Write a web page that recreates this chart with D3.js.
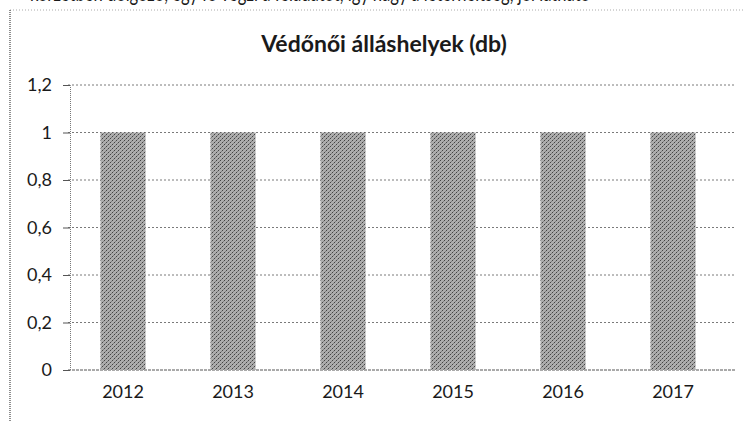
<!DOCTYPE html>
<html>
<head>
<meta charset="utf-8">
<script src="https://cdn.jsdelivr.net/npm/d3@7"></script>
<style>
  html, body { margin: 0; padding: 0; background: #fff; }
  svg { display: block; }
  text { font-family: Lato, "Open Sans", sans-serif; fill: #1a1a1a; }
</style>
</head>
<body>
<svg id="chart" width="744" height="421"></svg>
<script>
// Chart data
const years = ["2012", "2013", "2014", "2015", "2016", "2017"];
const positions = [1, 1, 1, 1, 1, 1];
const yTicks = [0, 0.2, 0.4, 0.6, 0.8, 1, 1.2];
const title = "Védőnői álláshelyek (db)";
const headerLine = "körzetben dolgozó, egy fő végzi a feladatot, így nagy a leterheltség, jól látható";

const svg = d3.select("#chart");
const W = 744, H = 421;
const margin = { top: 85, right: 16, bottom: 51, left: 68 };

// Stippled grey fill for the bars
const defs = svg.append("defs");
const pat = defs.append("pattern")
  .attr("id", "stipple").attr("width", 4).attr("height", 4)
  .attr("patternUnits", "userSpaceOnUse");
pat.append("rect").attr("width", 4).attr("height", 4).attr("fill", "#adadad");
pat.append("rect").attr("x", 0).attr("y", 0).attr("width", 1).attr("height", 1).attr("fill", "#444");
pat.append("rect").attr("x", 2).attr("y", 2).attr("width", 1).attr("height", 1).attr("fill", "#444");
pat.append("rect").attr("x", 1).attr("y", 3).attr("width", 1).attr("height", 1).attr("fill", "#808080");
pat.append("rect").attr("x", 3).attr("y", 1).attr("width", 1).attr("height", 1).attr("fill", "#808080");

// Cut-off line of the surrounding document text (only its lower edge is on the page)
svg.append("text")
  .attr("x", 30).attr("y", 1)
  .attr("font-size", 23)
  .attr("textLength", 560)
  .attr("lengthAdjust", "spacingAndGlyphs")
  .text(headerLine);

// Chart frame (dotted, as printed)
svg.append("line")
  .attr("x1", 10).attr("x2", W).attr("y1", 10).attr("y2", 10)
  .attr("stroke", "#aaa").attr("stroke-width", 1).attr("stroke-dasharray", "1,2");
svg.append("line")
  .attr("x1", 10).attr("x2", 10).attr("y1", 10).attr("y2", H)
  .attr("stroke", "#444").attr("stroke-width", 1.2).attr("stroke-dasharray", "1,1");

const x = d3.scaleBand()
  .domain(years)
  .range([margin.left, W - margin.right])
  .paddingInner(0.59)
  .paddingOuter(0.295);

const y = d3.scaleLinear()
  .domain([0, 1.2])
  .range([H - margin.bottom, margin.top]);

// Gridlines
svg.append("g")
  .selectAll("line")
  .data(yTicks)
  .join("line")
  .attr("x1", margin.left)
  .attr("x2", W - 8)
  .attr("y1", d => y(d))
  .attr("y2", d => y(d))
  .attr("stroke", d => d === 0 ? "#555" : "#7a7a7a")
  .attr("stroke-width", 1)
  .attr("stroke-dasharray", d => d === 0 ? "3,1" : "2,2");

// Bars
svg.append("g")
  .selectAll("rect")
  .data(years.map((yr, i) => ({ yr, v: positions[i] })))
  .join("rect")
  .attr("x", d => x(d.yr))
  .attr("y", d => y(d.v))
  .attr("width", x.bandwidth())
  .attr("height", d => y(0) - y(d.v))
  .attr("fill", "url(#stipple)");

// Y axis
const yAxis = d3.axisLeft(y)
  .tickValues(yTicks)
  .tickSize(7)
  .tickPadding(11)
  .tickFormat(d => d3.format(".1~f")(d).replace(".", ","));
const ga = svg.append("g")
  .attr("transform", `translate(${margin.left + 2},0)`)
  .call(yAxis);
ga.select(".domain").attr("stroke", "#777").attr("stroke-dasharray", "1,1");
ga.selectAll(".tick line").attr("stroke", "#555");
ga.selectAll(".tick text")
  .attr("font-size", 18)
  .attr("font-family", "Lato, sans-serif")
  .attr("fill", "#1a1a1a");

// X axis labels
const xAxis = d3.axisBottom(x).tickSize(0).tickPadding(15);
const gx = svg.append("g")
  .attr("transform", `translate(0,${y(0)})`)
  .call(xAxis);
gx.select(".domain").remove();
gx.selectAll(".tick text")
  .attr("font-size", 18)
  .attr("font-family", "Lato, sans-serif")
  .attr("fill", "#1a1a1a");

// Title
svg.append("text")
  .attr("x", 384).attr("y", 52)
  .attr("text-anchor", "middle")
  .attr("font-size", 23)
  .attr("font-weight", "bold")
  .text(title);
</script>
</body>
</html>
